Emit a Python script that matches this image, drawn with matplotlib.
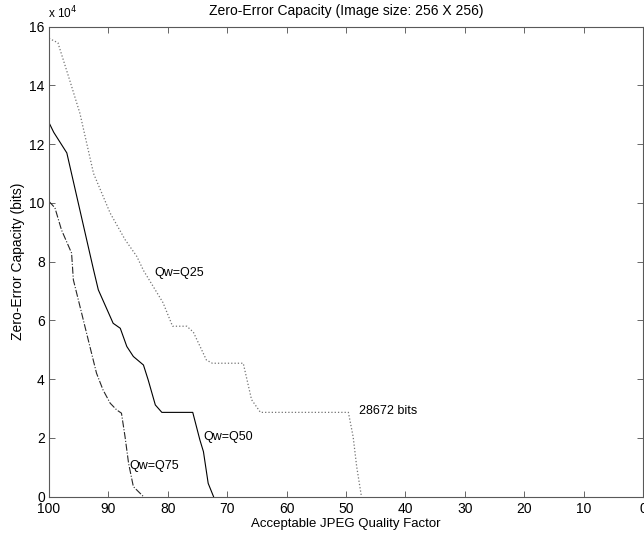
import matplotlib
matplotlib.use("Agg")
from matplotlib import pyplot as plt
from matplotlib.ticker import FuncFormatter

plt.rcParams['font.family'] = ['Liberation Sans', 'DejaVu Sans']

# quality factor vs zero-error capacity (bits)
q25_x = [100, 98.5, 96.4, 94.8, 92.5, 89.7, 87.2, 85.2, 84.1, 80.8, 79.2, 76.8,
         75.7, 73.5, 72.5, 67.3, 65.9, 64.4, 49.6, 48.8, 48.2, 47.4]
q25_y = [156000, 154500, 141000, 130500, 110000, 96500, 87500, 81700, 77000, 66000,
         58000, 58000, 56000, 46500, 45400, 45400, 33000, 28672, 28672, 20400, 10200, 0]

q50_x = [100, 99.2, 97.0, 92.5, 91.7, 89.2, 88.0, 86.9, 85.8, 84.1, 83.3, 82.1,
         81.0, 75.8, 74.6, 74.0, 73.2, 72.3]
q50_y = [127300, 124000, 117000, 77200, 70400, 59000, 57300, 51100, 47700, 44800,
         39700, 31200, 28672, 28672, 19300, 15300, 4500, 0]

q75_x = [100, 99.0, 97.9, 96.2, 95.9, 94.5, 93.4, 92.0, 90.9, 89.7, 88.6, 87.8,
         87.2, 86.6, 85.8, 84.1]
q75_y = [100500, 98300, 90800, 82900, 73800, 62400, 53400, 42000, 36300, 31800,
         29500, 28400, 20400, 11300, 3400, 0]

labels = ["Qw=Q25", "Qw=Q50", "Qw=Q75"]
label_pos = [(82.2, 76200), (74.0, 20300), (86.5, 10400)]
bits_note = "28672 bits"

fig = plt.figure(figsize=(6.44, 5.37), dpi=100)
ax = fig.add_axes([49/644, 1 - 496.6/537, 594/644, 470/537])

ax.plot(q25_x, q25_y, color='0.45', linestyle=':', linewidth=0.9)
ax.plot(q50_x, q50_y, color='black', linestyle='-', linewidth=0.8)
ax.plot(q75_x, q75_y, color='0.15', linestyle='-.', linewidth=0.8)

for lab, (lx, ly) in zip(labels, label_pos):
    ax.text(lx, ly, lab, fontsize=9, va='center', ha='left')
ax.text(47.8, 29200, bits_note, fontsize=9, va='center', ha='left')

ax.set_xlim(100, 0)
ax.set_ylim(0, 160000)
ax.set_xticks(range(100, -1, -10))
ax.set_yticks(range(0, 160001, 20000))
ax.yaxis.set_major_formatter(FuncFormatter(lambda v, p: "%d" % round(v / 1e4)))
ax.tick_params(direction='in', length=4, width=0.6, top=True, right=True,
               labelsize=10, color='0.3')
ax.tick_params(axis='x', pad=4)
ax.tick_params(axis='y', pad=3)
for s in ax.spines.values():
    s.set_linewidth(0.8)
    s.set_color('0.35')

ax.text(-0.001, 1.012, r"x 10$^{4}$", transform=ax.transAxes, fontsize=8.5,
        va='bottom', ha='left')
ax.set_title("Zero-Error Capacity (Image size: 256 X 256)", fontsize=10, pad=8)
ax.set_xlabel("Acceptable JPEG Quality Factor", fontsize=9.5, labelpad=1)
ax.set_ylabel("Zero-Error Capacity (bits)", fontsize=10, labelpad=3)

fig.savefig("out.png", dpi=100)
